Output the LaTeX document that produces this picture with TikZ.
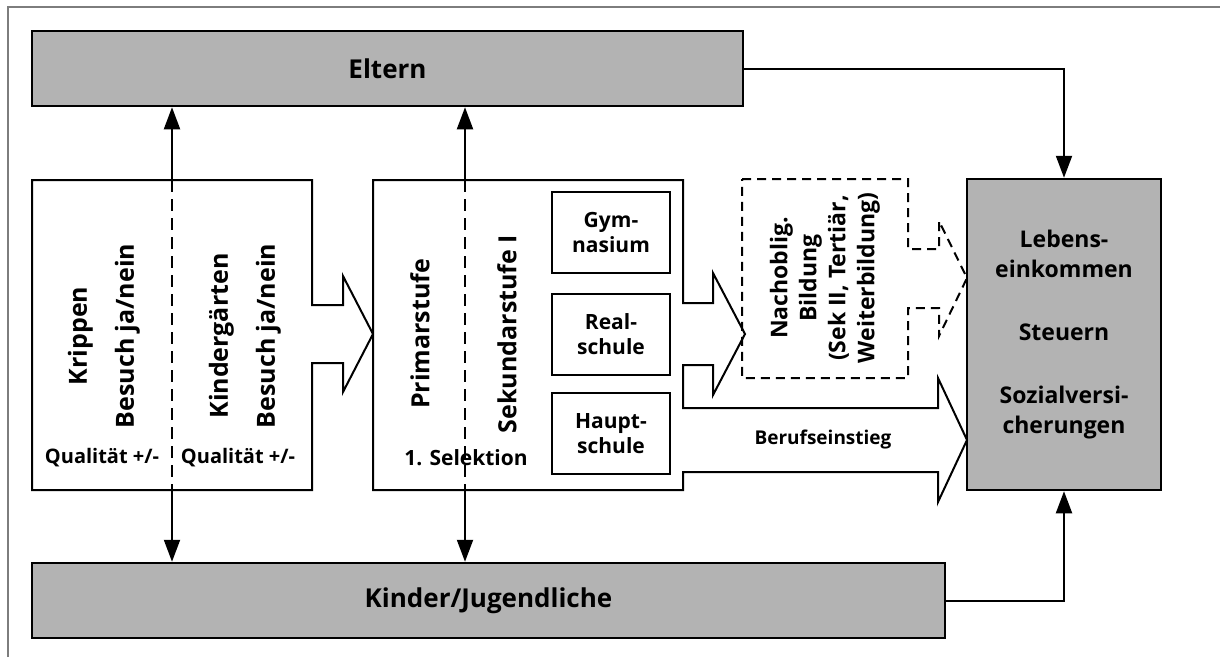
\documentclass[tikz,border=0pt]{standalone}
\usepackage{fontspec}
\setmainfont{Open Sans}
\usepackage{xcolor}
\usetikzlibrary{arrows.meta}
\definecolor{boxgray}{RGB}{179,179,179}
\definecolor{framegray}{RGB}{125,125,125}

\begin{document}
\begin{tikzpicture}[x=1pt,y=-1pt,line width=2pt,
    every node/.style={black,font=\bfseries,inner sep=0pt},
    greybox/.style={draw,fill=boxgray,line width=2.5pt},
    schoolbox/.style={draw,fill=white,minimum width=118pt,minimum height=81pt,align=center,
        font=\bfseries\fontsize{21}{25}\selectfont},
    vtext/.style={rotate=90,align=center,font=\bfseries\fontsize{25}{47}\selectfont},
    small/.style={font=\bfseries\fontsize{20}{24}\selectfont},
    divider/.style={dash pattern=on 12pt off 7pt},
    nachbox/.style={dash pattern=on 9pt off 6pt},
    onearrow/.style={-{Triangle[length=22pt,width=16pt]}},
    botharrow/.style={{Triangle[length=22pt,width=16pt]}-{Triangle[length=22pt,width=16pt]}}]
    \useasboundingbox (0,0) rectangle (1220,657);
    \draw[framegray,line width=1.5pt] (8,657) -- (8,7) -- (1220,7);

    \node[greybox,minimum width=711pt,minimum height=75pt,font=\bfseries\fontsize{26}{30}\selectfont]
        (eltern) at (387.5,68.5) {Eltern};
    \node[greybox,minimum width=913pt,minimum height=75pt,font=\bfseries\fontsize{26}{30}\selectfont]
        (kinder) at (488.5,600.5) {Kinder/Jugendliche};
    \node[greybox,minimum width=194pt,minimum height=311pt,align=center,font=\bfseries\fontsize{23}{30}\selectfont]
        (einkommen) at (1064,334.5) {Lebens-\\einkommen\\[33pt]Steuern\\[33pt]Sozialversi-\\cherungen};

    \coordinate (kv) at (172,334);
    \coordinate (pv) at (465,334);
    \draw[botharrow] (kv |- eltern.south) -- (kv |- kinder.north);
    \draw[botharrow] (pv |- eltern.south) -- (pv |- kinder.north);
    \draw[onearrow] (eltern.east) -| (einkommen.north);
    \draw[onearrow] (kinder.east) -| (einkommen.south);

    \filldraw[fill=white]
    (32,180) -- (312,180) -- (312,305) -- (343,305) -- (343,276) -- (373,334)
    -- (343,392) -- (343,363) -- (312,363) -- (312,490) -- (32,490) -- cycle;
    \filldraw[fill=white]
    (373,180) -- (683,180) -- (683,303) -- (713,303) -- (713,273) -- (745,334)
    -- (713,395) -- (713,365) -- (683,365) -- (683,408) -- (938,408) -- (938,378)
    -- (967,440) -- (938,502) -- (938,472) -- (683,472) -- (683,490) -- (373,490) -- cycle;
    \draw[nachbox]
    (742,179) -- (908,179) -- (908,249) -- (939,249) -- (939,221) -- (967,278)
    -- (939,336) -- (939,308) -- (908,308) -- (908,378) -- (742,378) -- cycle;

    \draw[divider] (kv |- 0,180) -- (kv |- 0,490);
    \draw[divider] (pv |- 0,180) -- (pv |- 0,490);

    \node[vtext] (krippen) at (104,336) {Krippen\\Besuch ja/nein};
    \node[vtext] (kiga) at (245,336) {Kindergärten\\Besuch ja/nein};
    \node[small] (qual1) at (102,458) {Qualität +/-};
    \node[small] (qual2) at (238,458) {Qualität +/-};

    \node[vtext] (primar) at (420,334) {Primarstufe};
    \node[vtext] (sek) at (507,334) {Sekundarstufe I};
    \node[font=\bfseries\fontsize{21}{25}\selectfont] (selektion) at (466,458) {1. Selektion};
    \node[schoolbox] (gym) at (611,232.5) {Gym-\\nasium};
    \node[schoolbox] (real) at (611,334.5) {Real-\\schule};
    \node[schoolbox] (haupt) at (611,433.5) {Haupt-\\schule};

    \node[rotate=90,align=center,font=\bfseries\fontsize{23}{29}\selectfont] (nachoblig) at (825,278)
        {Nachoblig.\\Bildung\\(Sek II, Tertiär,\\Weiterbildung)};
    \node[font=\bfseries\fontsize{19}{23}\selectfont] (beruf) at (823,440) {Berufseinstieg};
    \end{tikzpicture}
\end{document}
